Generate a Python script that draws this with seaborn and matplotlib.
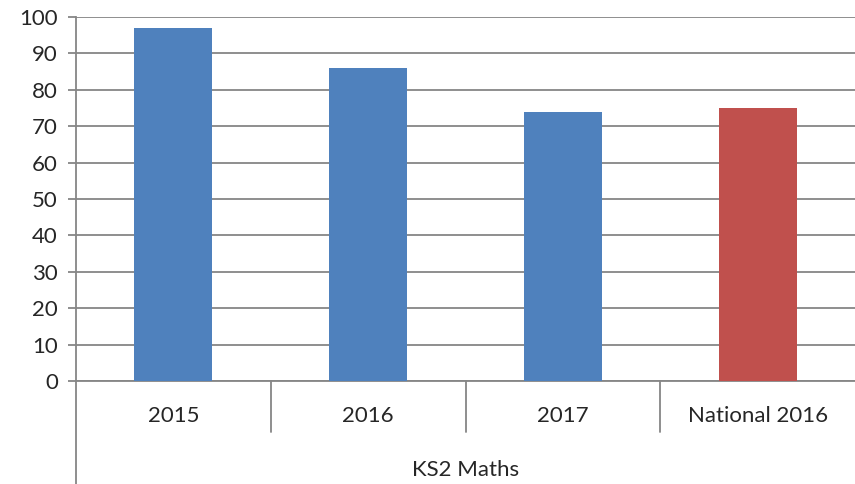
import matplotlib
matplotlib.use("Agg")
import matplotlib.pyplot as plt
import matplotlib.transforms as mtransforms
import seaborn as sns
import pandas as pd

categories = ["2015", "2016", "2017", "National 2016"]
values = [97, 86, 74, 75]
group_label = "KS2 Maths"
bar_colors = ["#4F81BD", "#4F81BD", "#4F81BD", "#C0504D"]
yticks = list(range(0, 101, 10))

sns.set_style("white")
plt.rcParams["font.family"] = ["Lato", "DejaVu Sans"]

df = pd.DataFrame({"cat": categories, "val": values})

fig = plt.figure(figsize=(8.55, 4.84), dpi=100)
ax_h = 381 - 17
ax = fig.add_axes([76 / 855, 1 - 381 / 484, (855 - 76) / 855, ax_h / 484])

sns.barplot(data=df, x="cat", y="val", hue="cat", palette=bar_colors,
            width=0.4, legend=False, ax=ax, saturation=1, zorder=3,
            linewidth=0)

ax.set_ylim(0, 100)
ax.set_xlim(-0.5, len(categories) - 0.5)
ax.set_yticks(yticks)
ax.set_yticklabels([str(t) for t in yticks], fontsize=16)
ax.yaxis.grid(True, color="#868686", linewidth=1.3, zorder=0)
ax.set_axisbelow(True)
ax.tick_params(axis="y", length=6, width=1.3, color="#868686", pad=7, left=True)
ax.tick_params(axis="x", length=0, pad=25, labelsize=16)
for lbl in ax.get_xticklabels():
    lbl.set_va("center")
ax.set_xlabel("")
ax.set_ylabel("")

for s in ["top", "right"]:
    ax.spines[s].set_visible(False)
for s in ["left", "bottom"]:
    ax.spines[s].set_color("#868686")
    ax.spines[s].set_linewidth(1.3)

trans = mtransforms.blended_transform_factory(ax.transData, ax.transAxes)
for i in range(len(categories) - 1):
    xs = i + 0.5
    ax.plot([xs, xs], [0, -51 / ax_h], transform=trans, color="#868686",
            linewidth=1.3, clip_on=False)
ax.plot([-0.5, -0.5], [0, -103 / ax_h], transform=trans, color="#868686",
        linewidth=1.3, clip_on=False)

ax.text((len(categories) - 1) / 2, -89 / ax_h, group_label, transform=trans,
        ha="center", va="center", fontsize=16)

fig.savefig("out.png", dpi=100)
